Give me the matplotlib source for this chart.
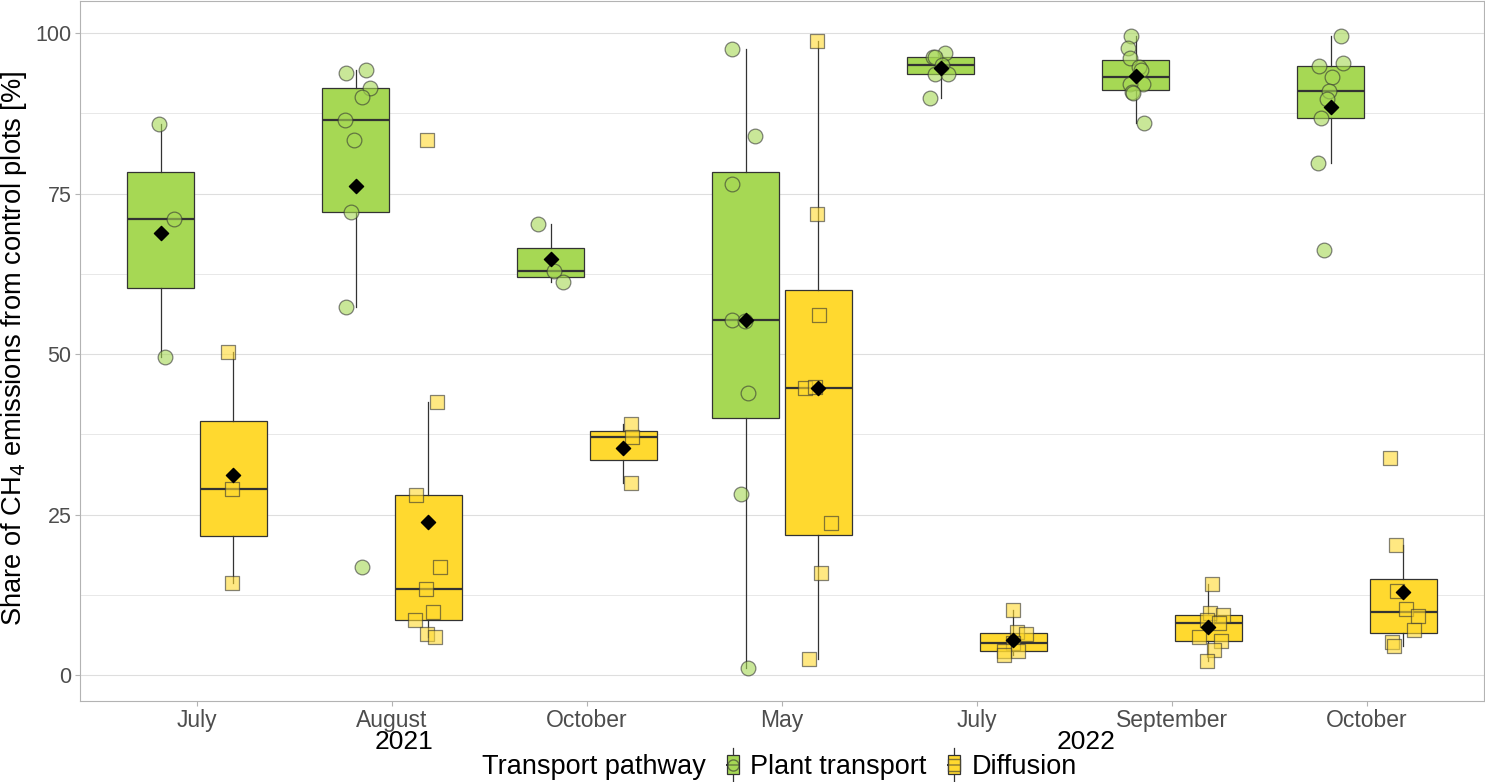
import matplotlib
matplotlib.use("Agg")
import matplotlib.pyplot as plt
import matplotlib.transforms as mtransforms
import numpy as np
from matplotlib.patches import Rectangle
from matplotlib.lines import Line2D
from matplotlib.legend_handler import HandlerBase

plt.rcParams['font.family'] = ['Liberation Sans', 'DejaVu Sans']

# campaigns on the x axis
months = ['July', 'August', 'October', 'May', 'July', 'September', 'October']
years = ['2021', '2022']
year_x = [2.06, 5.56]
pathways = ['Plant transport', 'Diffusion']

# share of CH4 emissions per plot [%]
plant = [
    [85.8, 71.1, 49.6],
    [93.8, 94.2, 91.5, 90.1, 86.5, 83.3, 72.2, 57.4, 16.8],
    [70.2, 62.9, 61.2],
    [97.6, 84.0, 76.5, 55.4, 55.2, 44.0, 28.2, 1.2],
    [96.9, 96.3, 96.3, 95.0, 93.6, 93.7, 89.9],
    [99.6, 97.7, 96.1, 94.7, 94.2, 92.0, 92.0, 90.8, 90.6, 86.0],
    [99.6, 94.9, 95.4, 93.1, 91.0, 89.7, 86.8, 79.8, 66.2],
]
diffusion = [
    [50.3, 29.0, 14.4],
    [83.3, 42.6, 28.0, 16.8, 13.5, 9.9, 8.6, 6.5, 6.0],
    [39.1, 37.1, 29.9],
    [98.7, 71.8, 56.1, 44.7, 44.9, 23.7, 16.0, 2.5],
    [10.2, 6.7, 6.4, 5.0, 3.8, 3.8, 3.1],
    [14.2, 9.7, 9.4, 8.6, 8.1, 5.9, 5.4, 3.95, 2.2],
    [13.2, 10.4, 9.2, 7.0, 5.2, 4.6, 33.8, 20.3],
]

# horizontal jitter of the points
plant_jitter = [
    [-0.01, 0.07, 0.025],
    [-0.05, 0.055, 0.075, 0.035, -0.055, -0.01, -0.025, -0.05, 0.035],
    [-0.065, 0.02, 0.065],
    [-0.07, 0.05, -0.07, -0.07, -0.005, 0.015, -0.025, 0.015],
    [0.025, -0.04, -0.03, 0.01, -0.03, 0.04, -0.055],
    [-0.025, -0.04, -0.03, 0.02, 0.03, 0.04, -0.03, -0.02, -0.015, 0.045],
    [0.055, -0.06, 0.065, 0.005, -0.01, -0.02, -0.05, -0.065, -0.035],
]
diffusion_jitter = [
    [-0.03, -0.01, -0.01],
    [-0.005, 0.045, -0.065, 0.06, -0.015, 0.025, -0.07, -0.005, 0.035],
    [0.04, 0.045, 0.04],
    [-0.005, -0.01, 0.005, -0.07, -0.02, 0.065, 0.015, -0.05],
    [0.0, 0.02, 0.065, 0.0, -0.05, 0.025, -0.05],
    [0.02, 0.01, 0.075, -0.01, 0.055, -0.05, 0.065, 0.03, -0.005],
    [-0.035, 0.015, 0.075, 0.055, -0.06, -0.05, -0.07, -0.04],
]

colors = ['#A6D854', '#FFD92F']
markers = ['o', 's']
msizes = [112, 92]
dodge = 0.187
box_w = 0.34
edge = '#333333'

fig = plt.figure(figsize=(14.85, 7.82), dpi=100)
ax = fig.add_axes([80 / 1485, 1 - 701 / 782, 1404 / 1485, 700 / 782])

x = np.arange(1, len(months) + 1)
for k, (series, jit) in enumerate([(plant, plant_jitter), (diffusion, diffusion_jitter)]):
    pos = x + (-dodge if k == 0 else dodge)
    ax.boxplot(series, positions=pos, widths=box_w, patch_artist=True,
               showfliers=False, showcaps=False, whis=1.5, manage_ticks=False,
               boxprops=dict(facecolor=colors[k], edgecolor=edge, linewidth=0.9),
               whiskerprops=dict(color=edge, linewidth=0.9),
               medianprops=dict(color=edge, linewidth=1.6),
               zorder=2)
    for i in range(len(series)):
        xs = pos[i] + np.array(jit[i])
        ax.scatter(xs, series[i], s=msizes[k], marker=markers[k],
                   facecolor=colors[k], edgecolor=edge, linewidths=0.9,
                   alpha=0.6, zorder=3)
    means = [np.mean(v) for v in series]
    ax.scatter(pos, means, marker='D', s=52, color='black', zorder=4)

ax.set_xlim(0.4, 7.6)
ax.set_ylim(-4, 105)
ax.set_xticks(x)
ax.set_xticklabels(months)
ax.set_yticks([0, 25, 50, 75, 100])
ax.set_yticks([12.5, 37.5, 62.5, 87.5], minor=True)
ax.tick_params(axis='both', which='major', color='#b3b3b3', length=3.6, width=0.8,
               labelcolor='#4d4d4d', pad=2.5)
ax.tick_params(axis='x', labelsize=16.5)
ax.tick_params(axis='y', labelsize=15.5)
ax.tick_params(axis='y', which='minor', length=0)
ax.grid(axis='y', which='major', color='#dedede', linewidth=0.8)
ax.grid(axis='y', which='minor', color='#dedede', linewidth=0.5)
ax.set_axisbelow(True)
for sp in ax.spines.values():
    sp.set_color('#b3b3b3')
    sp.set_linewidth(0.8)

# year labels under the month labels
year_trans = mtransforms.blended_transform_factory(ax.transData, fig.transFigure)
for yx, yr in zip(year_x, years):
    ax.text(yx, 1 - 742 / 782, yr, transform=year_trans,
            ha='center', va='center', fontsize=19, color='black')

fig.text(14 / 1485, 1 - 348 / 782, 'Share of CH$_4$ emissions from control plots [%]',
         rotation=90, ha='center', va='center', fontsize=19.6)


class BoxKey(HandlerBase):
    def __init__(self, color, marker):
        super().__init__()
        self.color = color
        self.marker = marker

    def create_artists(self, legend, orig_handle, xdescent, ydescent, width, height,
                       fontsize, trans):
        cx = -xdescent + width / 2
        cy = -ydescent + height / 2
        bw = width * 0.55
        bh = height * 1.0
        whisk = Line2D([cx, cx], [cy - bh * 0.85, cy + bh * 0.85], color=edge, lw=0.9,
                       transform=trans)
        box = Rectangle((cx - bw / 2, cy - bh / 2), bw, bh, facecolor=self.color,
                        edgecolor=edge, lw=0.9, transform=trans)
        med = Line2D([cx - bw / 2, cx + bw / 2], [cy, cy], color=edge, lw=1.4,
                     transform=trans)
        pt = Line2D([cx], [cy], marker=self.marker, markersize=8, markerfacecolor=self.color,
                    markeredgecolor=edge, alpha=0.6, linestyle='none', transform=trans)
        return [whisk, box, med, pt]


fig.text(706 / 1485, 1 - 767 / 782, 'Transport pathway', ha='right', va='center',
         fontsize=19.5)
handles = [Rectangle((0, 0), 1, 1), Rectangle((0, 0), 1, 1)]
fig.legend(handles, pathways, loc='center left', bbox_to_anchor=(722 / 1485, 1 - 767 / 782),
           ncol=2, frameon=False, fontsize=19.5, handlelength=0.8, handletextpad=0.25,
           columnspacing=0.6, borderpad=0, borderaxespad=0,
           handler_map={handles[0]: BoxKey(colors[0], 'o'), handles[1]: BoxKey(colors[1], 's')})

fig.savefig('out.png', dpi=100)
